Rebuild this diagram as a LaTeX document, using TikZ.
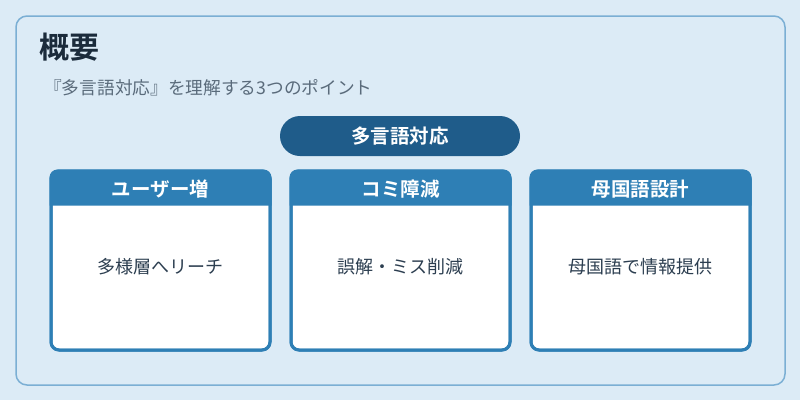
\documentclass[tikz,border=0pt]{standalone}
\usepackage{fontspec}
\usetikzlibrary{calc}
\setmainfont{Noto Sans CJK JP}[BoldFont={Noto Sans CJK JP Bold}]
\definecolor{bgc}{HTML}{DCEBF6}
\definecolor{framec}{HTML}{7BAFD4}
\definecolor{pillc}{HTML}{1F5C8A}
\definecolor{hdrc}{HTML}{2E7FB5}
\definecolor{titlec}{HTML}{1B2B3B}
\definecolor{subc}{HTML}{5A6B7B}
\definecolor{bodyc}{HTML}{2C3E50}
\tikzset{
  cardbox/.style={draw=hdrc, line width=3pt, fill=white, rounded corners=8pt, minimum width=219pt, minimum height=179pt, inner sep=0pt},
  hdrtext/.style={text=white, font=\fontsize{19.5}{22}\selectfont\bfseries, inner sep=0pt},
  bodytext/.style={text=bodyc, font=\fontsize{18}{21}\selectfont, inner sep=0pt},
}
\begin{document}
\begin{tikzpicture}[x=1pt,y=-1pt]
\useasboundingbox[fill=bgc] (0,0) rectangle (800,400);
\draw[framec, line width=1.5pt, rounded corners=11pt] (16,16) rectangle (785,385);
\node[anchor=west, text=titlec, font=\fontsize{30}{34}\selectfont\bfseries, inner sep=0pt] (title) at (39,47) {概要};
\node[anchor=west, text=subc, font=\fontsize{17.7}{21}\selectfont, inner sep=0pt] (sub) at (44,88) {『多言語対応』を理解する3つのポイント};
\node[fill=pillc, rounded corners=20pt, minimum width=240pt, minimum height=40pt, inner sep=0pt, text=white, font=\fontsize{19.5}{22}\selectfont\bfseries] (pill) at (400,136) {多言語対応};
\foreach \i/\cx/\h/\b in {1/160.5/ユーザー増/多様層へリーチ, 2/400.5/コミ障減/誤解・ミス削減, 3/640.5/母国語設計/母国語で情報提供}{
  \node[cardbox] (card\i) at (\cx,260.5) {};
  \fill[hdrc] ($(card\i.north west)+(0,36)$) [rounded corners=8pt] -- (card\i.north west) -- (card\i.north east) [sharp corners] -- ($(card\i.north east)+(0,36)$) -- cycle;
  \node[draw=hdrc, line width=3pt, rounded corners=8pt, minimum width=219pt, minimum height=179pt, inner sep=0pt] at (card\i) {};
  \node[hdrtext] (h\i) at (\cx,189) {\h};
  \node[bodytext] (b\i) at (\cx,267) {\b};
}
\end{tikzpicture}
\end{document}
